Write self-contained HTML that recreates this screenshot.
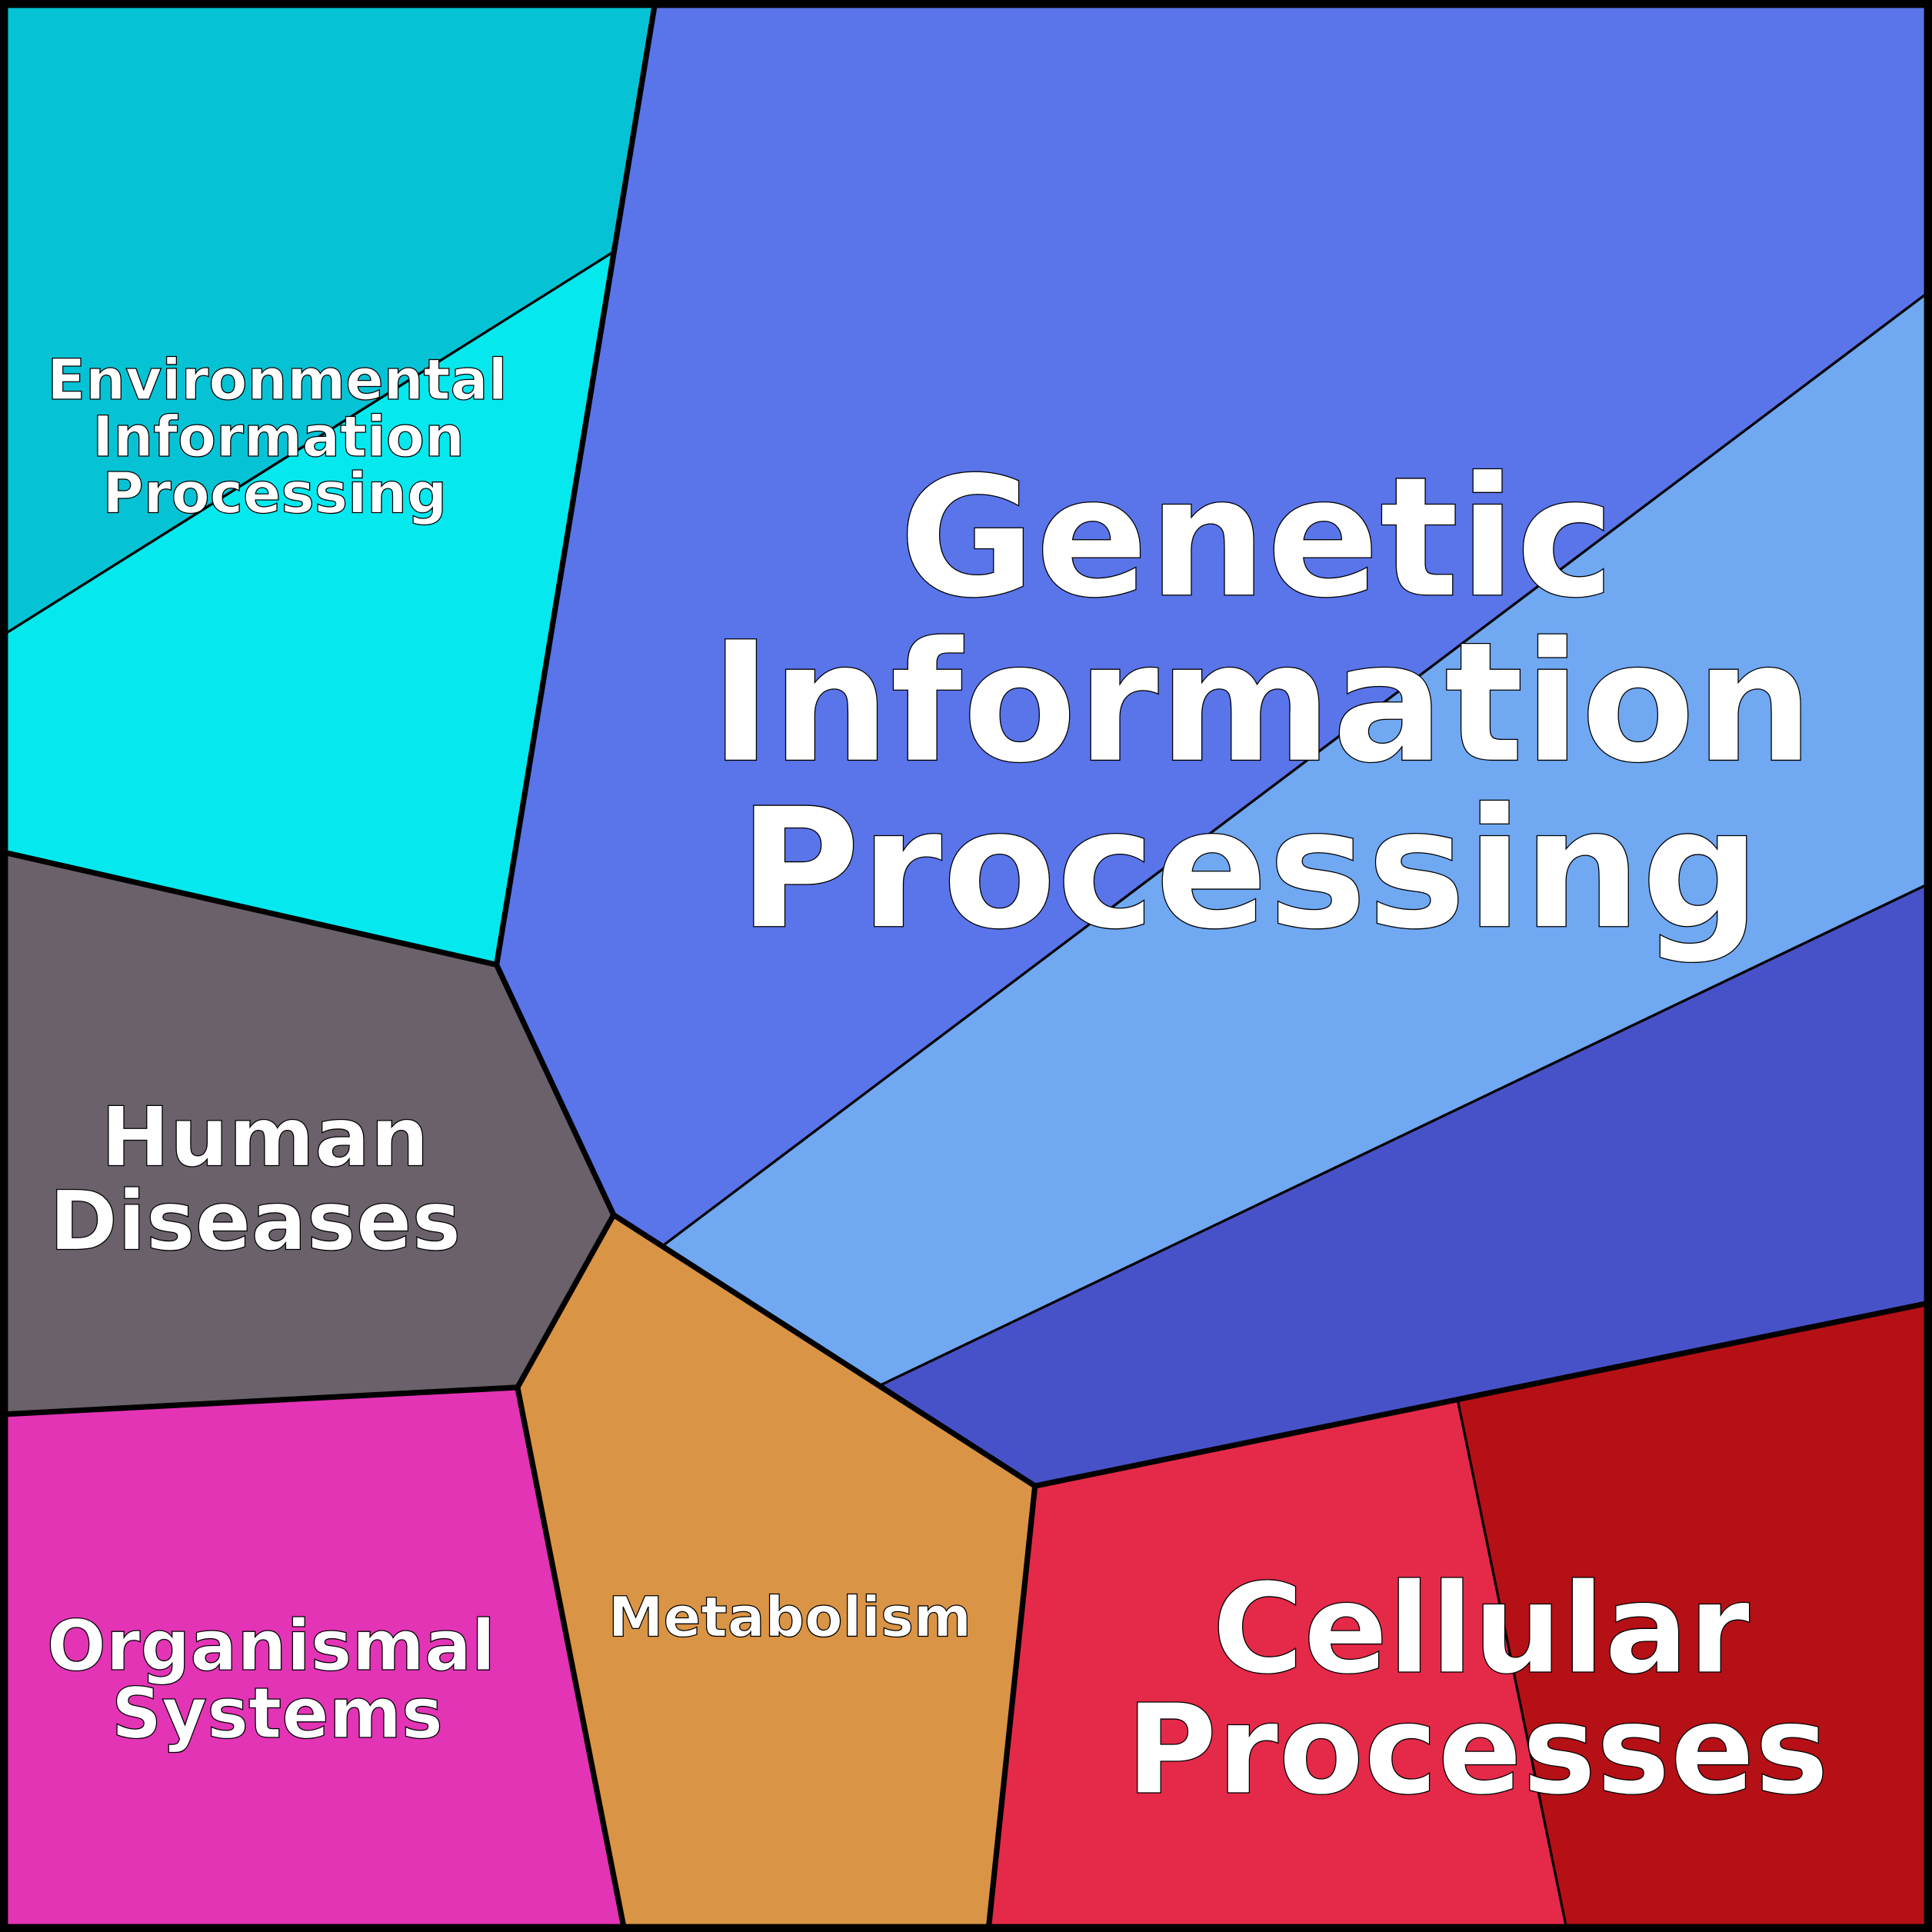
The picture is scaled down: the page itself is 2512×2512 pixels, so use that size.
<!DOCTYPE html>
<html><head><meta charset="utf-8"><style>
html,body{margin:0;padding:0;background:#fff}
svg{display:block}
text{font-family:"DejaVu Sans","Liberation Sans",sans-serif;font-weight:bold;fill:#fff;stroke:#000;stroke-width:0.8;text-anchor:middle}
</style></head><body>
<svg width="2512" height="2512" viewBox="0 0 1568 1568" xmlns="http://www.w3.org/2000/svg">
<g stroke="#000" stroke-width="2" stroke-linejoin="round">
<polygon points="0,0 532,0 497,205 0,517" fill="#05C3D4"/>
<polygon points="0,517 497,205 403,783 0,691" fill="#05E8EE"/>
<polygon points="0,691 403,783 498,986 420,1126 0,1148" fill="#6A616B"/>
<polygon points="0,1148 420,1126 507,1568 0,1568" fill="#E234B5"/>
<polygon points="420,1126 498,986 538,1011 715,1124 840,1206 802,1568 507,1568" fill="#DA9445"/>
<polygon points="532,0 1568,0 1568,235 538,1011 498,986 403,783" fill="#5A74E9"/>
<polygon points="538,1011 1568,235 1568,716 715,1124" fill="#70A8F2"/>
<polygon points="715,1124 1568,716 1568,1057 840,1206" fill="#4852C8"/>
<polygon points="840,1206 1183,1136 1272,1568 802,1568" fill="#E42A48"/>
<polygon points="1183,1136 1568,1057 1568,1568 1272,1568" fill="#B51016"/>
</g>
<g stroke="#000" stroke-width="4.5" fill="none" stroke-linejoin="round">
<polyline points="532,0 403,783 498,986 840,1206 1568,1057"/>
<polyline points="0,691 403,783"/>
<polyline points="498,986 420,1126 0,1148"/>
<polyline points="420,1126 507,1568"/>
<polyline points="840,1206 802,1568"/>
<rect x="3" y="3" width="1562" height="1562" stroke-width="7"/>
</g>
<text font-size="135" x="1020" y="483">Genetic</text>
<text font-size="135" x="1024" y="617">Information</text>
<text font-size="135" x="1014" y="752">Processing</text>
<text font-size="101" x="1202" y="1357">Cellular</text>
<text font-size="101" x="1199" y="1455">Processes</text>
<text font-size="67" x="215" y="946">Human</text>
<text font-size="67" x="207" y="1014">Diseases</text>
<text font-size="45.5" x="225" y="324">Environmental</text>
<text font-size="45.5" x="226" y="370">Information</text>
<text font-size="45.5" x="223" y="416">Processing</text>
<text font-size="56.5" x="220" y="1355">Organismal</text>
<text font-size="56.5" x="225" y="1410">Systems</text>
<text font-size="45" x="641" y="1328">Metabolism</text>
</svg>
</body></html>
